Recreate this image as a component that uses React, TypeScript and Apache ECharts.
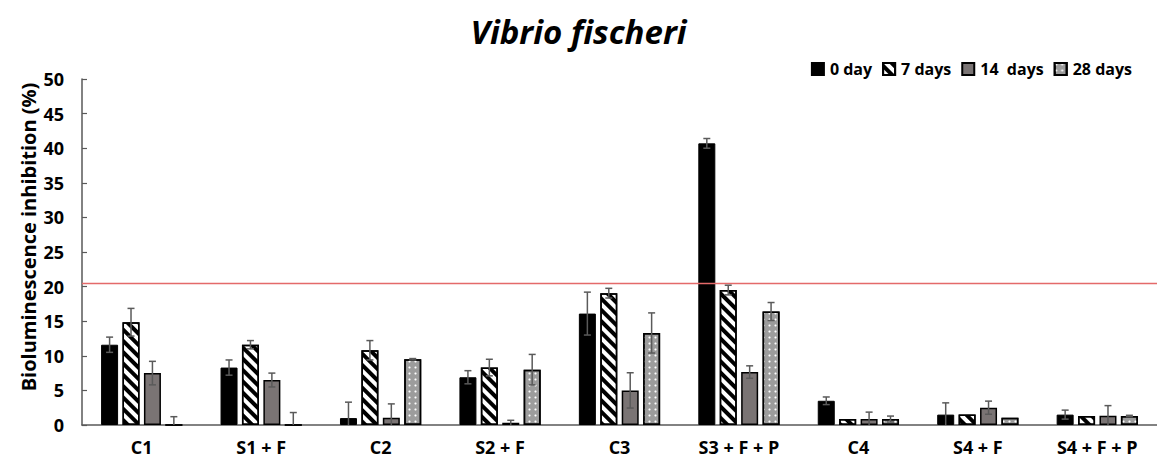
import React, { useEffect, useRef } from "react";
import * as echarts from "echarts";

const categories = ["C1", "S1 + F", "C2", "S2 + F", "C3", "S3 + F + P", "C4", "S4 + F", "S4 + F + P"];
const seriesNames = ["0 day", "7 days", "14  days", "28 days"];

const day0 = [11.6, 8.3, 1.0, 6.9, 16.1, 40.7, 3.5, 1.5, 1.5];
const day0Err = [1.1, 1.1, 2.3, 0.95, 3.1, 0.7, 0.55, 1.7, 0.65];
const day7 = [14.85, 11.6, 10.8, 8.3, 19.05, 19.5, 0.86, 1.5, 1.3];
const day7Err = [2.0, 0.6, 1.4, 1.2, 0.7, 0.7, 0, 0, 0];
const day14 = [7.5, 6.5, 1.05, 0.33, 5.0, 7.65, 0.86, 2.5, 1.35];
const day14Err = [1.7, 1.0, 2.0, 0.35, 2.55, 0.9, 1.0, 0.95, 1.45];
const day28 = [0, 0, 9.5, 8.0, 13.3, 16.4, 0.86, 1.05, 1.3];
const day28Err = [1.2, 1.8, 0.1, 2.2, 2.9, 1.3, 0.43, 0, 0.1];

const threshold = 20.5;

const yMin = 0;
const yMax = 50;
const yInterval = 5;

const FONT = "'Open Sans', 'Noto Sans', sans-serif";

export default function App() {
  const ref = useRef<HTMLDivElement>(null);

  useEffect(() => {
    document.body.style.margin = "0";
    if (!ref.current) return;
    const chart = echarts.init(ref.current, undefined, { renderer: "svg" });

    const values = [day0, day7, day14, day28];
    const errors = [day0Err, day7Err, day14Err, day28Err];
    const barWidth = 17;
    const barGapPct = 0.26;
    const gap = barWidth * barGapPct;
    const total = 4 * barWidth + 3 * gap;

    const styles: any[] = [
      { color: "#000000", borderColor: "#000000", borderWidth: 1 },
      {
        color: "#ffffff",
        borderColor: "#000000",
        borderWidth: 1.5,
        decal: {
          symbol: "rect",
          symbolSize: 1,
          dashArrayX: [[1, 0]],
          dashArrayY: [3.4, 3.4],
          rotation: Math.PI / 4,
          color: "#000000",
        },
      },
      { color: "#7a7474", borderColor: "#000000", borderWidth: 1.5 },
      {
        color: "#9c9c9c",
        borderColor: "#000000",
        borderWidth: 1.5,
        decal: {
          symbol: "circle",
          symbolSize: 0.7,
          dashArrayX: [[2.5, 2.5]],
          dashArrayY: [2.5, 2.5],
          rotation: 0,
          color: "#ffffff",
        },
      },
    ];

    const barSeries: any[] = seriesNames.map((name, si) => ({
      name,
      type: "bar",
      data: values[si],
      barWidth,
      barGap: barGapPct * 100 + "%",
      itemStyle: styles[si],
      z: 2,
      ...(si === 0
        ? {
            markLine: {
              silent: true,
              symbol: "none",
              label: { show: false },
              lineStyle: { color: "#e46a6a", width: 1.3, type: "solid" },
              data: [{ yAxis: threshold }],
              z: 5,
            },
          }
        : {}),
    }));

    const errSeries: any[] = seriesNames.map((name, si) => ({
      type: "custom",
      name: name + " err",
      z: 10,
      data: categories.map((_, i) => [i, values[si][i] - errors[si][i], values[si][i] + errors[si][i]]),
      renderItem: (params: any, api: any) => {
        const xi = api.value(0);
        const lowV = api.value(1);
        const highV = api.value(2);
        if (highV - lowV <= 0.001) return null;
        const hi = api.coord([xi, highV]);
        const lo = api.coord([xi, Math.max(lowV, 0)]);
        const offset = -total / 2 + barWidth / 2 + si * (barWidth + gap);
        const x = hi[0] + offset;
        const cap = 3.5;
        const st = { stroke: "#5a5a5a", lineWidth: 1.5 };
        const children: any[] = [
          { type: "line", shape: { x1: x, y1: hi[1], x2: x, y2: lo[1] }, style: st },
          { type: "line", shape: { x1: x - cap, y1: hi[1], x2: x + cap, y2: hi[1] }, style: st },
        ];
        if (lowV > 0) {
          children.push({ type: "line", shape: { x1: x - cap, y1: lo[1], x2: x + cap, y2: lo[1] }, style: st });
        }
        return { type: "group", children };
      },
    }));

    chart.setOption({
      animation: false,
      backgroundColor: "#ffffff",
      title: {
        text: "Vibrio fischeri",
        left: "center",
        top: 10,
        textStyle: {
          fontFamily: FONT,
          fontSize: 33,
          fontStyle: "italic",
          fontWeight: "bold",
          color: "#000",
        },
      },
      legend: {
        data: seriesNames,
        right: 20,
        top: 56,
        itemWidth: 12,
        itemHeight: 12,
        itemGap: 10,
        icon: "rect",
        textStyle: { fontFamily: FONT, fontSize: 16, fontWeight: "bold", color: "#000", padding: [0, 0, 0, 1] },
      },
      grid: { left: 82, right: 0, top: 79, bottom: 36, containLabel: false },
      xAxis: {
        type: "category",
        data: categories,
        axisTick: { show: false },
        axisLine: { lineStyle: { color: "#595959", width: 1.5 } },
        axisLabel: {
          margin: 13,
          fontFamily: FONT,
          fontSize: 18,
          fontWeight: "bold",
          color: "#000",
        },
      },
      yAxis: {
        type: "value",
        min: yMin,
        max: yMax,
        interval: yInterval,
        name: "Bioluminescence inhibition (%)",
        nameLocation: "middle",
        nameGap: 44,
        nameMoveOverlap: false,
        nameTextStyle: {
          fontFamily: FONT,
          fontSize: 20,
          fontWeight: "bold",
          color: "#000",
          padding: [0, 0, 0, 30],
        },
        splitLine: { show: false },
        axisLine: { show: true, lineStyle: { color: "#595959", width: 1.5 } },
        axisTick: { show: true, inside: true, length: 5, lineStyle: { color: "#595959", width: 1.2 } },
        axisLabel: {
          margin: 18,
          fontFamily: FONT,
          fontSize: 18,
          fontWeight: "bold",
          color: "#000",
        },
      },
      series: [...barSeries, ...errSeries],
    });

    return () => chart.dispose();
  }, []);

  return <div ref={ref} style={{ width: 1157, height: 461 }} />;
}
